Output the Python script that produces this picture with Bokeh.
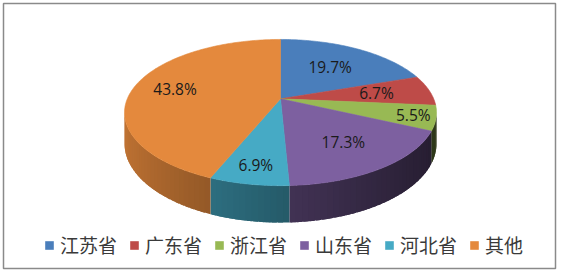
import math
from bokeh.plotting import figure
from bokeh.models import Range1d, ColumnDataSource, Legend, LegendItem
from bokeh.core.properties import value
from bokeh.embed import file_html
from bokeh.resources import INLINE

# ---- data ----
provinces = ["江苏省", "广东省", "浙江省", "山东省", "河北省", "其他"]
shares = [19.7, 6.7, 5.5, 17.3, 6.9, 43.8]
colors = ["#4A7EBB", "#BE4B48", "#98B954", "#7D60A0", "#46AAC5", "#E4893D"]
label_r = [0.61, 0.64, 0.86, 0.66, 0.81, 0.72]

# ---- layout of the 3D pie (screen pixels) ----
CX, CY = 280.0, 98.3
RX, RY = 153.2, 70.5
K = 0.1882
DEPTH = 30.0


def proj(theta, r=1.0):
    t = math.radians(theta)
    u = r * math.sin(t)
    v = -r * math.cos(t)
    w = 1 - K * v
    return CX + RX * u / w, CY + RY * v / w, w


def shade(hexcol, f):
    h = hexcol.lstrip("#")
    rgb = [int(h[i:i + 2], 16) for i in (0, 2, 4)]
    return "#%02x%02x%02x" % tuple(max(0, min(255, int(c * f))) for c in rgb)


total = sum(shares)
bounds = [0.0]
for s in shares:
    bounds.append(bounds[-1] + s / total * 360.0)

# ---- side walls (drawn as overlapping shaded strips) ----
th_lo = math.degrees(math.acos(-K))
th_hi = 360.0 - th_lo
side_xs, side_ys, side_cols = [], [], []
for i in range(len(shares)):
    lo = max(bounds[i], th_lo)
    hi = min(bounds[i + 1], th_hi)
    if lo >= hi:
        continue
    n = max(1, int(math.ceil((hi - lo) / 2.0)))
    for j in range(n):
        a = lo + (hi - lo) * j / n
        b = lo + (hi - lo) * (j + 1) / n
        if j < n - 1:
            b += 0.8 * (hi - lo) / n
        tx, ty, bx, by = [], [], [], []
        for m in range(5):
            th = a + (b - a) * m / 4
            x, y, w = proj(th)
            tx.append(x)
            ty.append(y)
            bx.append(x)
            by.append(y + DEPTH / w)
        mid = 0.5 * (a + b)
        f = 0.58 + 0.28 * math.sin(math.radians(mid - 188.0))
        side_xs.append(tx + bx[::-1])
        side_ys.append(ty + by[::-1])
        side_cols.append(shade(colors[i], f))

# ---- top faces ----
top_xs, top_ys = [], []
for i in range(len(shares)):
    a, b = bounds[i], bounds[i + 1]
    n = max(2, int(math.ceil((b - a) / 1.0)))
    xs, ys = [CX], [CY]
    for m in range(n + 1):
        x, y, _ = proj(a + (b - a) * m / n)
        xs.append(x)
        ys.append(y)
    top_xs.append(xs)
    top_ys.append(ys)

# ---- labels ----
lab_x, lab_y, lab_t = [], [], []
for i, s in enumerate(shares):
    mid = 0.5 * (bounds[i] + bounds[i + 1])
    x, y, _ = proj(mid, label_r[i])
    lab_x.append(x)
    lab_y.append(y)
    lab_t.append("%.1f%%" % s)

p = figure(width=561, height=273, x_range=Range1d(3, 555), y_range=Range1d(268, 3),
           output_backend="svg", toolbar_location=None,
           min_border_left=3, min_border_right=6, min_border_top=3, min_border_bottom=5)
p.axis.visible = False
p.grid.visible = False
p.outline_line_color = "#8a8a8a"
p.outline_line_width = 1.5
p.background_fill_color = "white"
p.border_fill_color = "white"

p.patches(xs="xs", ys="ys", fill_color="c", line_color=None,
          source=ColumnDataSource(dict(xs=side_xs, ys=side_ys, c=side_cols)))
top_r = p.patches(xs="xs", ys="ys", fill_color="c", line_color="c", line_width=0.6,
                  source=ColumnDataSource(dict(xs=top_xs, ys=top_ys, c=colors)))

p.text(x="x", y="y", text="t", source=ColumnDataSource(dict(x=lab_x, y=lab_y, t=lab_t)),
       text_font=value("Open Sans"), text_font_size=value("15.5px"),
       text_align="center", text_baseline="middle", text_color="#1a1a1a")

items = [LegendItem(label=provinces[i], renderers=[top_r], index=i) for i in range(len(provinces))]
legend = Legend(items=items, orientation="horizontal", location=(41, 10),
                label_text_font="Noto Sans CJK SC", label_text_font_size="19px",
                label_text_color="#3a3a3a", glyph_width=10, glyph_height=10,
                label_standoff=6, spacing=12, padding=0, margin=0,
                border_line_color=None, background_fill_alpha=0)
p.add_layout(legend)

open("out.html", "w").write(file_html(p, INLINE))
